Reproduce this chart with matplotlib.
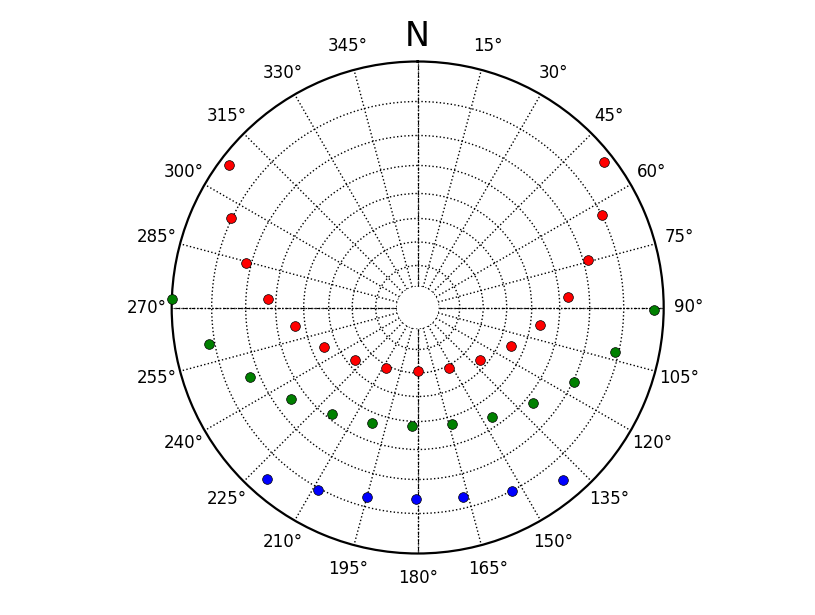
import numpy as np
import matplotlib
matplotlib.use("Agg")
import matplotlib.pyplot as plt

# azimuth (deg, clockwise from north) and radial distance (axis units)
red_az = [52.1, 63.5, 74.5, 86.1, 98.3, 112.6, 130.1, 152.4, 179.5,
          207.5, 229.9, 246.9, 261.3, 273.1, 284.5, 295.6, 307.0]
red_r = [215.4, 185.3, 156.0, 129.3, 102.9, 80.0, 60.5, 47.3, 42.5,
         47.6, 60.5, 80.5, 103.1, 128.6, 156.0, 186.0, 215.0]

green_az = [271.9, 260.1, 247.4, 234.2, 218.6, 201.4, 182.6, 163.6,
            145.8, 129.6, 115.6, 102.8, 90.6]
green_r = [224.5, 190.6, 160.6, 135.3, 115.7, 103.4, 97.6, 100.7,
           111.3, 129.1, 152.3, 181.6, 215.6]

blue_az = [221.2, 208.6, 194.9, 180.6, 166.5, 152.7, 139.9]
blue_r = [207.3, 186.8, 175.4, 170.5, 174.2, 185.4, 205.0]

ring_values = [21, 44.5, 68, 93, 121, 151, 185]
r_max = 225
hole = 21
theta_ticks = list(range(0, 360, 15))
theta_labels = ["N"] + [f"{t}°" for t in theta_ticks[1:]]

fig = plt.figure(figsize=(8.15, 6.15), dpi=100)
ax = fig.add_subplot(111, projection="polar")
fig.subplots_adjust(left=0.125, right=0.9, bottom=0.1, top=0.9)
ax.set_theta_zero_location("N")
ax.set_theta_direction(-1)
ax.set_rorigin(-hole)
ax.set_rlim(0, r_max)

ax.set_rgrids(ring_values, labels=[""] * len(ring_values))
ax.set_thetagrids(theta_ticks, labels=[""] * len(theta_ticks))
ax.grid(True, color="black", linestyle=":", linewidth=1.0)
ax.spines["polar"].set_linewidth(1.6)
ax.spines["inner"].set_visible(False)
ax.spines["inner"].set_linewidth(0)
ax.tick_params(length=0)

# inner (hole) boundary as dotted ring
tt = np.linspace(0, 2 * np.pi, 200)
ax.plot(tt, np.zeros_like(tt), color="black", linestyle=":", lw=1.0, zorder=1)

# emphasise cardinal lines
for t in [0, 90, 180, 270]:
    ax.plot([np.deg2rad(t)] * 2, [0, r_max], color="black", lw=0.8,
            linestyle=(0, (3, 1.5, 1, 1.5)), zorder=1)

for az, r, c in [(red_az, red_r, "red"), (green_az, green_r, "green"),
                 (blue_az, blue_r, "blue")]:
    ax.plot(np.deg2rad(az), r, "o", color=c, markersize=7,
            markeredgecolor="black", markeredgewidth=0.5,
            linestyle="none", clip_on=False, zorder=5)

for t, lab in zip(theta_ticks, theta_labels):
    x = 0.5 + 0.55 * np.sin(np.deg2rad(t))
    y = 0.5 + 0.55 * np.cos(np.deg2rad(t))
    ax.text(x, y, lab, transform=ax.transAxes, ha="center", va="center",
            fontsize=24 if lab == "N" else 12, family="DejaVu Sans")

fig.savefig("out.png", dpi=100)
